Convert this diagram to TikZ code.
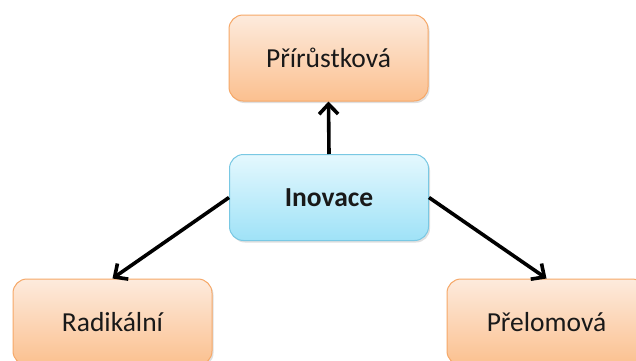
\documentclass[tikz,border=0pt]{standalone}
\usepackage{fontspec}
\setmainfont{Carlito}
\usetikzlibrary{arrows.meta,shadows}
\definecolor{orTop}{HTML}{FDEBDD}
\definecolor{orBot}{HTML}{FBC08F}
\definecolor{orLine}{HTML}{F6A868}
\definecolor{blTop}{HTML}{E4F8FE}
\definecolor{blBot}{HTML}{9FE2F7}
\definecolor{blLine}{HTML}{79C8E3}
\tikzset{
  card/.style={rounded corners=14pt, minimum width=199pt, minimum height=86pt,
    line width=1pt, font=\fontsize{27.5}{30}\selectfont, text=black!90,
    drop shadow={opacity=0.25, shadow xshift=1.5pt, shadow yshift=-2pt}},
  orangecard/.style={card, draw=orLine, top color=orTop, bottom color=orBot},
  bluecard/.style={card, draw=blLine, top color=blTop, bottom color=blBot,
    font=\fontsize{27.5}{30}\selectfont\bfseries},
  link/.style={line width=3.6pt, -{Straight Barb[length=10pt,width=19pt,line width=3.6pt]}}
}
\begin{document}
\begin{tikzpicture}[x=1pt,y=1pt]
  \useasboundingbox (0,0) rectangle (636,360);
  \clip (0,0) rectangle (636,360);
  \fill[white] (0,0) rectangle (636,360);
  \node[orangecard] (top) at (328.5,302) {Přírůstková};
  \node[bluecard] (ino) at (329,162.5) {Inovace};
  \node[orangecard] (rad) at (112.5,38) {Radikální};
  \node[orangecard] (pre) at (546.5,38) {Přelomová};
  \draw[link] (ino.north) -- (top.south);
  \draw[link] (ino.west) -- (rad.north);
  \draw[link] (ino.east) -- (pre.north);
\end{tikzpicture}
\end{document}
